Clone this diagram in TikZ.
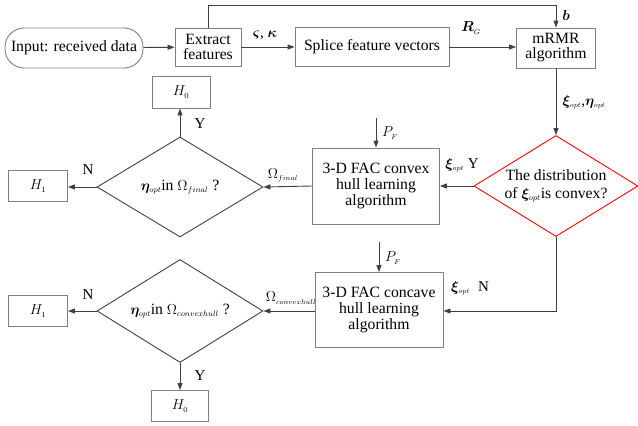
\documentclass[tikz,border=0pt]{standalone}
\usepackage{amsmath,bm}
\usepackage{fontspec}
\setmainfont{Liberation Serif}
\newfontfamily\tnr{Liberation Serif}
\usetikzlibrary{shapes.geometric,arrows.meta}
\definecolor{boxc}{HTML}{808080}
\definecolor{linec}{HTML}{404040}
\tikzset{
  box/.style={draw=boxc,line width=0.9pt,inner sep=0pt,align=center,font=\tnr\fontsize{15.7}{17}\selectfont},
  dia/.style={diamond,draw=linec,line width=0.9pt,inner sep=0pt},
  txt/.style={inner sep=0pt,font=\tnr\fontsize{15.7}{17}\selectfont,align=center},
  lab/.style={inner sep=0pt,font=\tnr\fontsize{15}{17}\selectfont},
  arr/.style={draw=linec,line width=0.9pt,-{Triangle[length=7pt,width=5pt]}}
}
\begin{document}
\begin{tikzpicture}[x=1pt,y=-1pt]
\useasboundingbox (0,0) rectangle (638,426);
% top row
\node[box,rounded corners=19pt,minimum width=138pt,minimum height=40pt] (in) at (74,48) {Input: received data};
\node[box,minimum width=66pt,minimum height=38pt] (ex) at (208,47) {Extract\\[-2pt]features};
\node[box,minimum width=154pt,minimum height=39pt] (sp) at (372,47) {Splice feature vectors};
\node[box,minimum width=79pt,minimum height=40pt] (mr) at (556,48) {mRMR\\[-2pt]algorithm};
% red diamond
\node[dia,draw=red,minimum width=164pt,minimum height=101pt] (dc) at (556,186) {};
\node[txt] at (dc.center) {The distribution\\[1pt]of $\bm{\xi}_{\scriptscriptstyle opt}$is convex?};
% convex box
\node[box,minimum width=127pt,minimum height=76pt] (cv) at (376,186) {3-D FAC convex\\[-1pt]hull learning\\[-1pt]algorithm};
% concave box
\node[box,minimum width=128pt,minimum height=75pt] (cc) at (379,310) {3-D FAC concave\\[-1pt]hull learning\\[-1pt]algorithm};
% left diamonds
\node[dia,minimum width=166pt,minimum height=100pt] (d1) at (180,187) {};
\node[txt] at (d1.center) {$\bm{\eta}_{\scriptscriptstyle opt}$in $\Omega_{\scriptscriptstyle final}$ ?};
\node[dia,minimum width=166pt,minimum height=103pt] (d2) at (180,311) {};
\node[txt] at (d2.center) {$\bm{\eta}_{\scriptscriptstyle opt}$in $\Omega_{\scriptscriptstyle convexhull}$ ?};
% H boxes
\node[box,minimum width=58pt,minimum height=32pt] (h0a) at (181,92) {$H_{\scriptscriptstyle 0}$};
\node[box,minimum width=59pt,minimum height=31pt] (h1a) at (38,186) {$H_{\scriptscriptstyle 1}$};
\node[box,minimum width=59pt,minimum height=31pt] (h1b) at (38,311) {$H_{\scriptscriptstyle 1}$};
\node[box,minimum width=57pt,minimum height=31pt] (h0b) at (180,406) {$H_{\scriptscriptstyle 0}$};
% helper coordinates
\coordinate (pf1) at (376,118);
\coordinate (pf2) at (379,242);
\coordinate (tl) at (208,5);
\coordinate (tr) at (556,5);
\coordinate (br) at (556,311);
% connectors
\draw[arr] (in) -- (ex);
\draw[arr] (ex) -- (sp);
\draw[arr] (sp.east) -- (sp.east -| mr.west);
\draw[arr] (ex.north) -- (tl) -- (tr) -- (mr.north);
\draw[arr] (mr.south) -- (dc.north);
\draw[arr] (dc.west) -- (cv.east);
\draw[arr] (dc.south) -- (br) -- (cc.east |- br);
\draw[arr] (pf1) -- (cv.north);
\draw[arr] (pf2) -- (cc.north);
\draw[arr] (cv.west) -- (d1.east);
\draw[arr] (cc.west |- d2.east) -- (d2.east);
\draw[arr] (d1.west) -- (d1.west -| h1a.east);
\draw[arr] (d2.west) -- (d2.west -| h1b.east);
\draw[arr] (d1.north) -- (d1.north |- h0a.south);
\draw[arr] (d2.south) -- (d2.south |- h0b.north);
% labels
\node[lab] at (265,35) {$\bm{\varsigma}$, $\bm{\kappa}$};
\node[lab] at (471,28) {$\bm{R}_{\scriptscriptstyle G}$};
\node[lab] at (566,15) {$\bm{b}$};
\node[lab] at (584,102) {$\bm{\xi}_{\scriptscriptstyle opt}$,$\bm{\eta}_{\scriptscriptstyle opt}$};
\node[lab] at (390,133) {$P_{\scriptscriptstyle F}$};
\node[lab] at (393,258) {$P_{\scriptscriptstyle F}$};
\node[lab] at (462,165) {$\bm{\xi}_{\scriptscriptstyle opt}$ Y};
\node[lab] at (470,288) {$\bm{\xi}_{\scriptscriptstyle opt}$\; N};
\node[lab] at (283,175) {$\Omega_{\scriptscriptstyle final}$};
\node[lab] at (291,298) {$\Omega_{\scriptscriptstyle convexhull}$};
\node[lab] at (88,170) {N};
\node[lab] at (88,295) {N};
\node[lab] at (200,124) {Y};
\node[lab] at (200,376) {Y};
\end{tikzpicture}
\end{document}
